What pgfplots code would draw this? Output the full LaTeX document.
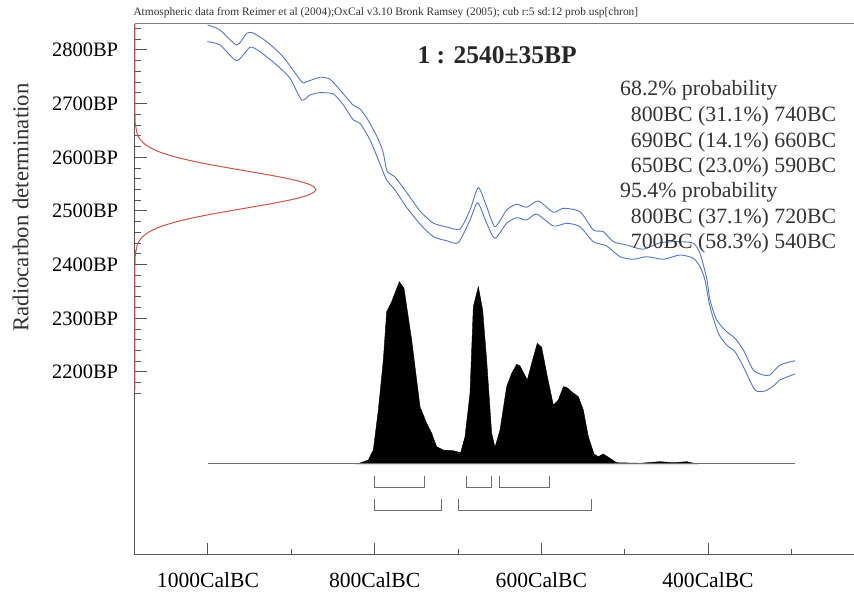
\documentclass[border=0pt]{standalone}
\usepackage{fontspec}
\setmainfont{Liberation Serif}
\usepackage{pgfplots}
\pgfplotsset{compat=1.18}
\definecolor{calblue}{RGB}{80,118,205}
\definecolor{calred}{RGB}{208,84,70}
\definecolor{axgray}{RGB}{85,85,85}
\definecolor{brgray}{RGB}{110,110,110}
\begin{document}
\begin{tikzpicture}
\useasboundingbox (-135pt,-41pt) rectangle (719pt,555pt);
\begin{axis}[
  at={(0pt,0pt)}, anchor=south west,
  scale only axis, width=719pt, height=531pt,
  xmin=-1087.6, xmax=-224.8, ymin=1859, ymax=2848.4,
  clip=false,
  axis x line*=bottom, axis y line*=left,
  axis line style={draw=axgray, line width=1pt},
  xtick align=inside, ytick align=inside,
  major tick length=12pt, minor tick length=6pt,
  tick style={draw=axgray, line width=1pt},
  ytick style={draw=none},
  xtick={-1000,-800,-600,-400},
  xticklabels={1000CalBC,800CalBC,600CalBC,400CalBC},
  minor xtick={-900,-700,-500,-300},
  ytick={2200,2300,2400,2500,2600,2700,2800},
  yticklabels={2200BP,2300BP,2400BP,2500BP,2600BP,2700BP,2800BP},
  xticklabel style={font=\fontsize{21.6}{24}\selectfont, anchor=north, inner sep=0pt, yshift=-17.4pt},
  yticklabel style={font=\fontsize{20.5}{24}\selectfont, anchor=east, inner sep=0pt, xshift=-16.7pt},
]
% top frame line
\draw[draw=gray, line width=1pt] (rel axis cs:0,1) -- (rel axis cs:1,1);
% y-axis tick marks (minor every 20 BP, major every 100 BP)
\pgfplotsinvokeforeach{2160,2180,2200,2220,2240,2260,2280,2300,2320,2340,2360,2380,2400,2420,2440,2460,2480,2500,2520,2540,2560,2580,2600,2620,2640,2660,2680,2700,2720,2740,2760,2780,2800,2820,2840}{
  \draw[axgray, line width=1pt] (axis cs:-1087.6,#1) -- ++(6.5pt,0pt);
}
\pgfplotsinvokeforeach{2200,2300,2400,2500,2600,2700,2800}{
  \draw[axgray, line width=1pt] (axis cs:-1087.6,#1) -- ++(12pt,0pt);
}

% calibration curve, upper
\addplot[calblue, line width=0.9pt, smooth, tension=0.4] coordinates {
(-1000.5,2846.6) (-985.6,2837.3) (-965.6,2809.3) (-953.6,2831.1) (-946,2831.7)
(-929.6,2815.5) (-910,2787.5) (-887.6,2740.9) (-881.6,2740.9) (-865.6,2749.1)
(-853.6,2745.4) (-841.6,2725.5) (-826,2697.5) (-817.6,2690.1) (-808,2669.6)
(-797.2,2638.4) (-790,2610.5) (-785.2,2574.5) (-775.6,2563.3) (-761.2,2533.5)
(-745.6,2500) (-730,2477.6) (-713.6,2470.2) (-697.6,2466.4) (-685.6,2501.9)
(-675.6,2543.4) (-665.6,2508) (-655.6,2470.7) (-641.6,2501.9) (-629.6,2512.5)
(-617.6,2506.9) (-603.6,2518.6) (-585.6,2497.6) (-573.6,2505) (-553.6,2498.7)
(-537.6,2464.6) (-525.6,2461.4) (-513.6,2442.8) (-497.6,2436.6) (-477.6,2428.6)
(-457.6,2440.9) (-433.6,2442.8) (-417.6,2439.8) (-409.6,2421.2) (-401.6,2374.6)
(-397.6,2334.2) (-389.6,2296.9) (-377.6,2275.1) (-367.6,2262.8) (-357.6,2241)
(-345.6,2203.7) (-333.6,2194.4) (-325.6,2194.4) (-313.6,2213) (-295.6,2221)
};
% calibration curve, lower
\addplot[calblue, line width=0.9pt, smooth, tension=0.4] coordinates {
(-1000.8,2815.5) (-985.6,2809.3) (-965.6,2780.1) (-949.6,2805) (-937.6,2796.8)
(-917.6,2772) (-901.6,2747.3) (-887.6,2706.8) (-877.6,2716.1) (-865.6,2720.4)
(-849.6,2718) (-837.6,2697.5) (-825.6,2669.6) (-817.6,2663.4) (-805.6,2632.3)
(-793.6,2587.6) (-785.6,2557.8) (-775.6,2539.1) (-761.6,2506.5) (-745.6,2475.8)
(-729.6,2452.1) (-713.6,2444.6) (-699.6,2440.9) (-685.6,2483.2) (-676.4,2515.5)
(-665.6,2477.1) (-655.6,2449.1) (-641.6,2477.1) (-629.6,2487.5) (-617.6,2483.2)
(-605.6,2494.4) (-585.6,2472) (-569.6,2477.1) (-553.6,2470.7) (-537.6,2442.8)
(-521.6,2434.8) (-505.6,2414.8) (-489.6,2410) (-473.6,2414.8) (-453.6,2410)
(-433.6,2418) (-417.6,2411.9) (-409.6,2396.2) (-403.6,2371.4) (-397.6,2321.7)
(-387.6,2272.1) (-377.6,2250.3) (-367.6,2237.8) (-357.6,2209.9) (-343.6,2166.4)
(-331.6,2164.6) (-321.6,2173.9) (-313.6,2185.1) (-295.6,2196.3)
};

% measurement (red)
\addplot[calred, line width=1pt, smooth, tension=0.5] coordinates {
(-1087.6,2848.4) (-1087.6,2680) (-1087.1,2662.5) (-1085.2,2645) (-1082.7,2636.25)
(-1078.1,2627.5) (-1070.3,2618.75) (-1058.2,2610) (-1040.6,2601.25) (-1017.1,2592.5)
(-988.2,2583.75) (-955.9,2575) (-923.7,2566.25) (-895.9,2557.5) (-877.1,2548.75)
(-870.4,2540) (-877.1,2531.25) (-895.9,2522.5) (-923.7,2513.75) (-955.9,2505)
(-988.2,2496.25) (-1017.1,2487.5) (-1040.6,2478.75) (-1058.2,2470) (-1070.3,2461.25)
(-1078.1,2452.5) (-1082.7,2443.75) (-1085.2,2435) (-1087.1,2417.5) (-1087.6,2400)
(-1087.6,2166.4)
};

% posterior distribution
\addplot[fill=black, draw=black, line width=0.4pt] coordinates {
(-823.6,2028.6) (-817.6,2030.4) (-807.6,2036) (-801.6,2054.6) (-795.6,2129.2)
(-789.6,2222.3) (-785.6,2312.3) (-779.6,2331) (-770.4,2368.2) (-764.8,2356)
(-755.6,2259.6) (-745.6,2135.3) (-737.6,2104.4) (-731.6,2085.8) (-725.6,2060.8)
(-717.6,2054.6) (-705.6,2053.3) (-696.8,2049.6) (-691.6,2079.4) (-685.6,2160.3)
(-681.6,2321.7) (-675.6,2358.9) (-670.4,2315.5) (-665.6,2222.3) (-659.6,2085.8)
(-655.6,2059.7) (-649.6,2091.9) (-641.6,2172.6) (-635.6,2197.5) (-629.6,2214.3)
(-625.6,2211.2) (-616.8,2185.1) (-611.6,2216.2) (-604.8,2253.5) (-599.6,2246)
(-593.6,2197.5) (-585.6,2138.5) (-579.6,2147.8) (-573.6,2172.6) (-569.6,2171.5)
(-563.6,2163.3) (-555.6,2153.9) (-549.6,2129.2) (-543.6,2079.4) (-536.8,2047.2)
(-531.6,2042.2) (-525.6,2047.2) (-517.6,2039.2) (-509.6,2031) (-481.6,2029.9)
(-457.6,2032.9) (-441.6,2031) (-425.6,2032.9) (-413.6,2028.6)
} -- cycle;
% baseline
\addplot[brgray, line width=1pt] coordinates {(-1000,2028.6) (-295.6,2028.6)};

% 68.2% ranges
\addplot[brgray, line width=1pt] coordinates {(-800,2006.2) (-800,1985.1) (-740,1985.1) (-740,2006.2)};
\addplot[brgray, line width=1pt] coordinates {(-690,2006.2) (-690,1985.1) (-660,1985.1) (-660,2006.2)};
\addplot[brgray, line width=1pt] coordinates {(-650,2006.2) (-650,1985.1) (-590,1985.1) (-590,2006.2)};
% 95.4% ranges
\addplot[brgray, line width=1pt] coordinates {(-800,1962.8) (-800,1942.8) (-720,1942.8) (-720,1962.8)};
\addplot[brgray, line width=1pt] coordinates {(-700,1962.8) (-700,1942.8) (-540,1942.8) (-540,1962.8)};
\end{axis}

% texts
\node[anchor=base west, inner sep=0pt, font=\fontsize{11.4}{13}\selectfont, text=black!80] at (-1.7pt,539pt)
  {Atmospheric data from Reimer et al (2004);OxCal v3.10 Bronk Ramsey (2005); cub r:5 sd:12 prob usp[chron]};
\node[anchor=base, inner sep=0pt, rotate=90, font=\fontsize{22.7}{26}\selectfont, text=black!80] at (-106.7pt,347.5pt)
  {Radiocarbon determination};
\node[anchor=base west, inner sep=0pt, font=\fontsize{25.5}{30}\selectfont\bfseries, text=black!85] at (282.3pt,491.7pt)
  {1 : 2540±35BP};
\begin{scope}[every node/.style={anchor=base west, inner sep=0pt, font=\fontsize{21.8}{24}\selectfont, text=black!80}]
\node at (485pt,459pt) {68.2\% probability};
\node at (495.7pt,433.3pt) {800BC (31.1\%) 740BC};
\node at (495.7pt,407.7pt) {690BC (14.1\%) 660BC};
\node at (495.7pt,382.3pt) {650BC (23.0\%) 590BC};
\node at (485pt,357.7pt) {95.4\% probability};
\node at (495.7pt,331.7pt) {800BC (37.1\%) 720BC};
\node at (495.7pt,306.7pt) {700BC (58.3\%) 540BC};
\end{scope}
\end{tikzpicture}
\end{document}
